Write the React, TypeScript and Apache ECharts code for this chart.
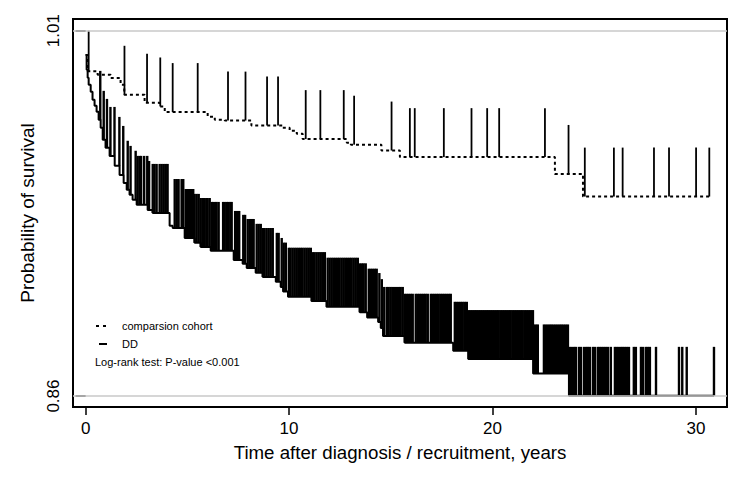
import React, { useEffect, useRef } from "react";
import * as echarts from "echarts";

// ---- axis ticks ----
const xTickValues = [0, 10, 20, 30];
const yTickValues = [0.86, 1.01];

// ---- Kaplan-Meier step data: comparison cohort ----
const compTimes = [0, 0.1, 0.59, 1.23, 1.72, 1.9, 2.9, 3.64, 3.89, 6.0, 6.35, 6.84, 8.15, 9.69, 10.03, 10.38, 10.67, 12.84, 13.04, 14.54, 15.45, 23.07, 24.45];
const compSurv = [1.0, 0.9933, 0.9919, 0.9906, 0.9878, 0.9837, 0.9804, 0.9789, 0.9766, 0.9747, 0.9734, 0.9731, 0.9711, 0.9701, 0.9689, 0.9677, 0.9655, 0.964, 0.9632, 0.9608, 0.9581, 0.9512, 0.9419];
const compEndTime = 30.69;

// ---- Kaplan-Meier step data: DD ----
const ddTimes = [0, 0.05, 0.1, 0.15, 0.25, 0.34, 0.44, 0.54, 0.64, 0.74, 0.84, 0.98, 1.18, 1.43, 1.67, 1.87, 2.02, 2.16, 2.31, 2.51, 3.05, 3.3, 4.13, 4.28, 4.87, 5.36, 5.66, 6.15, 7.28, 7.72, 7.92, 8.36, 8.71, 9.35, 9.59, 9.71, 9.95, 11.1, 11.84, 13.48, 13.84, 14.38, 14.51, 14.62, 15.69, 18.07, 18.81, 22.0, 23.76];
const ddSurv = [1.0, 0.994, 0.9907, 0.9878, 0.9849, 0.9816, 0.9792, 0.9767, 0.9734, 0.9701, 0.9652, 0.9619, 0.9586, 0.9545, 0.9508, 0.9475, 0.9447, 0.9426, 0.9406, 0.9385, 0.9364, 0.9352, 0.9299, 0.929, 0.9249, 0.9229, 0.9212, 0.9196, 0.9159, 0.9143, 0.9126, 0.9106, 0.9089, 0.9069, 0.9048, 0.9029, 0.9008, 0.899, 0.8967, 0.8944, 0.8922, 0.8904, 0.8879, 0.8847, 0.8819, 0.8786, 0.8752, 0.8693, 0.8601];
const ddEndTime = 30.89;

// ---- censoring times ----
const compCensor = [0.15, 1.91, 3.02, 3.67, 4.28, 5.51, 7.0, 7.86, 8.92, 9.46, 10.82, 11.54, 12.69, 13.2, 15.04, 15.94, 16.18, 17.61, 18.97, 19.74, 20.33, 22.58, 23.74, 24.54, 25.97, 26.4, 27.94, 28.68, 30.01, 30.66];

const ddCensorEarly = [0.72, 0.89, 1.05, 1.22, 1.42, 1.66, 1.85, 2.07, 2.21, 2.46, 2.56, 2.66, 2.73, 2.88, 3.03, 3.12, 3.3, 3.39, 3.49, 3.64, 3.74, 3.84, 3.94, 4.03, 4.38, 4.48, 4.57, 4.72, 4.8];
const ddCensorFiveToTen = [4.92, 4.99, 5.07, 5.14, 5.21, 5.29, 5.36, 5.46, 5.56, 5.66, 5.76, 5.83, 5.93, 6.0, 6.1, 6.2, 6.27, 6.37, 6.44, 6.54, 6.76, 6.84, 6.94, 7.01, 7.11, 7.18, 7.35, 7.45, 7.55, 7.75, 7.84, 7.97, 8.07, 8.17, 8.26, 8.41, 8.51, 8.61, 8.71, 8.8, 8.9, 9.0, 9.1, 9.2, 9.4, 9.49, 9.64, 9.74, 9.84];
const ddCensorTenToNineteen = [9.99, 10.08, 10.18, 10.28, 10.38, 10.48, 10.58, 10.67, 10.77, 10.87, 10.97, 11.07, 11.17, 11.26, 11.36, 11.46, 11.56, 11.66, 11.76, 11.9, 12.0, 12.1, 12.2, 12.3, 12.4, 12.49, 12.59, 12.69, 12.79, 12.89, 12.99, 13.08, 13.18, 13.28, 13.38, 13.48, 13.58, 13.67, 13.77, 13.92, 14.02, 14.12, 14.22, 14.31, 14.44, 14.56, 14.68, 14.81, 14.9, 15.0, 15.1, 15.2, 15.3, 15.4, 15.49, 15.59, 15.69, 15.79, 15.89, 15.99, 16.08, 16.23, 16.33, 16.43, 16.53, 16.63, 16.72, 16.82, 16.97, 17.07, 17.17, 17.27, 17.36, 17.46, 17.56, 17.66, 17.76, 17.86, 17.95, 18.15, 18.25, 18.35, 18.45, 18.54, 18.64, 18.74];
const ddCensorLate = [18.84, 18.94, 19.04, 19.14, 19.23, 19.33, 19.43, 19.53, 19.63, 19.73, 19.82, 19.92, 20.02, 20.12, 20.22, 20.31, 20.41, 20.51, 20.61, 20.71, 20.81, 20.9, 21.0, 21.1, 21.2, 21.3, 21.4, 21.49, 21.59, 21.69, 21.79, 21.89, 21.99, 22.04, 22.14, 22.23, 22.53, 22.63, 22.73, 22.83, 22.92, 23.02, 23.12, 23.22, 23.32, 23.41, 23.51, 23.61, 23.71, 23.81, 23.91, 24.01, 24.1, 24.25, 24.35, 24.5, 24.6, 24.69, 24.79, 24.94, 25.04, 25.18, 25.28, 25.38, 25.48, 25.58, 25.68, 25.82, 26.02, 26.12, 26.22, 26.32, 26.41, 26.51, 26.61, 26.71, 26.95, 27.05, 27.3, 27.4, 27.54, 27.64, 27.74, 28.04, 29.17, 29.33, 29.55, 30.89];

const seriesNames = ["comparsion cohort", "DD"];
const noteText = "Log-rank test: P-value <0.001";
const xTitle = "Time after diagnosis / recruitment, years";
const yTitle = "Probability of survival";

const FONT = "'Liberation Sans', Arial, Helvetica, sans-serif";
const TICK_LEN = 0.0201;
const Y_CAP = 1.01;

function survAt(times: number[], surv: number[], t: number): number {
  let v = surv[0];
  for (let i = 0; i < times.length; i++) {
    if (times[i] <= t) v = surv[i];
    else break;
  }
  return v;
}

function stepData(times: number[], surv: number[], end: number) {
  const d = times.map((t, i) => [t, surv[i]]);
  d.push([end, surv[surv.length - 1]]);
  return d;
}

function censorData(censor: number[], times: number[], surv: number[]) {
  return censor.map((t) => [t, survAt(times, surv, t)]);
}

function makeTickRender(width: number) {
  return (params: any, api: any) => {
    const t = api.value(0);
    const s = api.value(1);
    const p0 = api.coord([t, s]);
    const p1 = api.coord([t, Math.min(s + TICK_LEN, Y_CAP)]);
    return {
      type: "line",
      shape: { x1: p0[0], y1: p0[1], x2: p1[0], y2: p1[1] },
      style: { stroke: "#000", lineWidth: width },
    };
  };
}

export default function App() {
  const ref = useRef<HTMLDivElement>(null);

  useEffect(() => {
    if (!ref.current) return;
    const chart = echarts.init(ref.current, undefined, { renderer: "svg" });
    const ddCensor = [...ddCensorEarly, ...ddCensorFiveToTen, ...ddCensorTenToNineteen, ...ddCensorLate];

    chart.setOption({
      animation: false,
      backgroundColor: "#fff",
      textStyle: { fontFamily: FONT },
      grid: { left: 73, right: 17, top: 19, bottom: 76, show: true, borderColor: "#000", borderWidth: 2 },
      xAxis: {
        type: "value",
        min: -0.62,
        max: 31.53,
        axisLine: { show: false },
        splitLine: { show: false },
        axisTick: { show: true, customValues: xTickValues, length: 8, lineStyle: { color: "#000", width: 1.5 } },
        axisLabel: { customValues: xTickValues, color: "#000", fontSize: 17, margin: 13, fontFamily: FONT },
        name: xTitle,
        nameLocation: "middle",
        nameGap: 36,
        nameTextStyle: { color: "#000", fontSize: 18.7, fontFamily: FONT },
      },
      yAxis: {
        type: "value",
        min: 0.8555,
        max: 1.0148,
        axisLine: { show: false },
        splitLine: { show: false },
        axisTick: { show: true, customValues: yTickValues, length: 10, lineStyle: { color: "#000", width: 1.5 } },
        axisLabel: {
          customValues: yTickValues,
          rotate: 90,
          color: "#000",
          fontSize: 17,
          margin: 11,
          fontFamily: FONT,
          formatter: (v: number) => v.toFixed(2),
        },
        name: yTitle,
        nameLocation: "middle",
        nameRotate: 90,
        nameGap: 31,
        nameTextStyle: { color: "#000", fontSize: 19, fontFamily: FONT },
      },
      series: [
        {
          type: "line",
          data: [],
          z: 1,
          silent: true,
          markLine: {
            silent: true,
            symbol: ["none", "none"],
            label: { show: false },
            lineStyle: { color: "#c8c8c8", width: 1.5, type: "solid" },
            data: yTickValues.map((v) => ({ yAxis: v })),
          },
        },
        {
          name: seriesNames[0],
          type: "line",
          step: "end",
          showSymbol: false,
          z: 3,
          data: stepData(compTimes, compSurv, compEndTime),
          lineStyle: { color: "#000", width: 2, type: [3, 3] },
        },
        {
          name: seriesNames[1],
          type: "line",
          step: "end",
          showSymbol: false,
          z: 3,
          data: stepData(ddTimes, ddSurv, ddEndTime),
          lineStyle: { color: "#000", width: 2, type: "solid" },
        },
        {
          type: "custom",
          z: 4,
          renderItem: makeTickRender(1.8),
          encode: { x: 0, y: 1 },
          data: censorData(compCensor, compTimes, compSurv),
        },
        {
          type: "custom",
          z: 4,
          renderItem: makeTickRender(2.4),
          encode: { x: 0, y: 1 },
          data: censorData(ddCensor, ddTimes, ddSurv),
        },
      ],
      graphic: [
        { type: "line", shape: { x1: 96, y1: 326, x2: 106, y2: 326 }, style: { stroke: "#000", lineWidth: 2, lineDash: [3, 4] } },
        { type: "line", shape: { x1: 99, y1: 344, x2: 107, y2: 344 }, style: { stroke: "#000", lineWidth: 2 } },
        { type: "text", x: 122, y: 326, style: { text: seriesNames[0], font: `11px ${FONT}`, fill: "#000", verticalAlign: "middle", align: "left" } },
        { type: "text", x: 122, y: 344, style: { text: seriesNames[1], font: `11px ${FONT}`, fill: "#000", verticalAlign: "middle", align: "left" } },
        { type: "text", x: 95, y: 361.5, style: { text: noteText, font: `11px ${FONT}`, fill: "#000", verticalAlign: "middle", align: "left" } },
        { type: "rect", shape: { x: 90, y: 350, width: 160, height: 8 }, style: { fill: "#fff" }, z: 100 },
      ],
    });

    return () => chart.dispose();
  }, []);

  return <div ref={ref} style={{ position: "fixed", left: 0, top: 0, width: 744, height: 483, background: "#fff" }} />;
}
